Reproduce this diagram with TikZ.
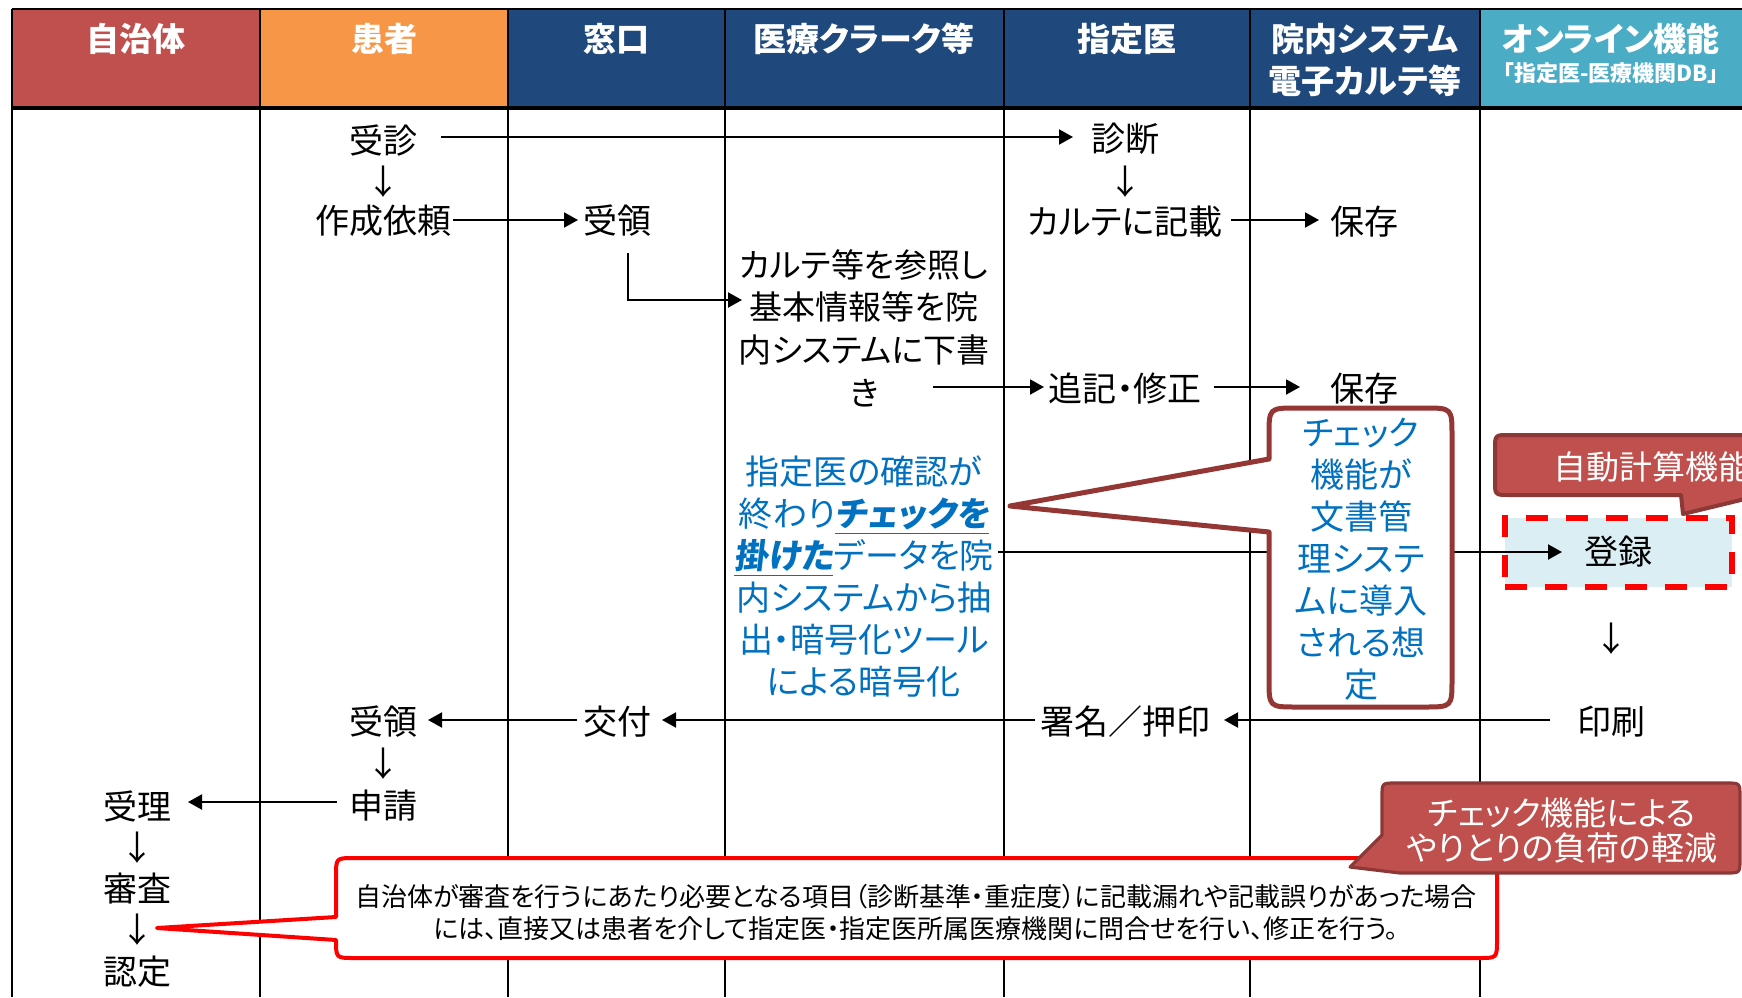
\documentclass[tikz,border=0pt]{standalone}
\usepackage{fontspec}
\setmainfont{Noto Sans CJK JP}[RawFeature=+palt]
\newfontfamily\emphfont{Noto Sans CJK JP}[RawFeature=+palt, FakeSlant=0.12]
\usetikzlibrary{arrows.meta,calc}
\definecolor{hred}{HTML}{C0504D}
\definecolor{horange}{HTML}{F79646}
\definecolor{hblue}{HTML}{1F497D}
\definecolor{hteal}{HTML}{4BACC6}
\definecolor{txtblue}{HTML}{0070C0}
\definecolor{brownred}{HTML}{943634}
\definecolor{darkred}{HTML}{8C3836}
\definecolor{boxblue}{HTML}{DAEEF3}
\begin{document}
\begin{tikzpicture}[x=0.5pt,y=-0.5pt,
  txt/.style={inner sep=0pt, font=\fontsize{17pt}{21pt}\selectfont, align=center},
  hd/.style={inner sep=0pt, text=white, font=\fontsize{16.5pt}{21pt}\selectfont\bfseries, align=center},
  arr/.style={line width=1pt, -{Triangle[length=7pt,width=7.5pt]}},
  gridline/.style={line width=1pt, black},
  redcall/.style={fill=hred, draw=darkred, line width=1.6pt, line join=round},
  wcall/.style={fill=white, line join=round},
  dashbox/.style={txt, draw=red, line width=3pt, dash pattern=on 11pt off 9pt, fill=boxblue, minimum width=113.5pt, minimum height=34.5pt}
  ]
\useasboundingbox (0,0) rectangle (1742,997);
\clip (0,0) rectangle (1742,997);
\fill[white] (0,0) rectangle (1742,997);
% header cells
\fill[hred] (12,9) rectangle (260,108);
\fill[horange] (260,9) rectangle (508,108);
\fill[hblue] (508,9) rectangle (1480,108);
\fill[hteal] (1480,9) rectangle (1760,108);
% grid
\foreach \x in {12,260,508,725,1004,1250,1480} \draw[gridline] (\x,9) -- (\x,997);
\draw[gridline] (12,9) -- (1760,9);
\draw[line width=2pt] (12,108) -- (1760,108);
% header texts
\node[hd] (hJ) at (136,39) {自治体};
\node[hd] (hP) at (384,39) {患者};
\node[hd] (hM) at (616,39) {窓口};
\node[hd] (hC) at (864,39) {医療クラーク等};
\node[hd] (hS) at (1127,39) {指定医};
\node[hd] (hI) at (1365,60) {院内システム\\電子カルテ等};
\node[hd] (hO) at (1611,39) {オンライン機能};
\node[hd, font=\fontsize{11pt}{13pt}\selectfont\bfseries] (hO2) at (1611,73) {「指定医-医療機関DB」};
% body texts
\node[txt] (jushin) at (383,141) {受診};
\node[txt] (d1) at (383,182) {↓};
\node[txt] (irai) at (383,221) {作成依頼};
\node[txt] (ryo1) at (617,221) {受領};
\node[txt] (shindan) at (1125,139) {診断};
\node[txt] (d2) at (1125,182) {↓};
\node[txt] (kisai) at (1125,222) {カルテに記載};
\node[txt] (hozon1) at (1364,222) {保存};
\node[txt, font=\fontsize{16.5pt}{21.3pt}\selectfont] (draft) at (864,328) {カルテ等を参照し\\基本情報等を院\\内システムに下書\\き};
\node[txt] (tsuiki) at (1125,389) {追記・修正};
\node[txt] (hozon2) at (1364,389) {保存};
\node[txt, text=txtblue] (extract) at (864,577) {指定医の確認が\\終わり\underline{\emphfont\bfseries チェックを}\\\underline{\emphfont\bfseries 掛けた}データを院\\内システムから抽\\出・暗号化ツール\\による暗号化};
\node[dashbox] (toroku) at (1618,552) {登録};
\node[txt] (d3) at (1611,639) {↓};
\node[txt] (insatsu) at (1611,722) {印刷};
\node[txt] (shomei) at (1125,722) {署名／押印};
\node[txt] (kofu) at (617,722) {交付};
\node[txt] (ryo2) at (383,722) {受領};
\node[txt] (d4) at (383,764) {↓};
\node[txt] (shinsei) at (383,806) {申請};
\node[txt] (juri) at (137,806) {受理};
\node[txt] (d5) at (137,848) {↓};
\node[txt] (shinsa) at (137,889) {審査};
\node[txt] (d6) at (137,930) {↓};
\node[txt] (nintei) at (137,972) {認定};
% arrows
\draw[arr] ($(jushin.center)+(58,-4)$) -- ($(shindan.center)+(-52,-2)$);
\draw[arr] ($(irai.center)+(70,-1)$) -- ($(ryo1.center)+(-39,-1)$);
\draw[arr] ($(ryo1.center)+(11,32)$) |- ($(draft.center)+(-122,-28)$);
\draw[arr] ($(kisai.center)+(106,-2)$) -- ($(hozon1.center)+(-45,-2)$);
\draw[arr] ($(draft.center)+(69,59)$) -- ($(tsuiki.center)+(-81,-2)$);
\draw[arr] ($(tsuiki.center)+(89,-2)$) -- ($(hozon2.center)+(-64,-2)$);
\draw[arr] ($(extract.center)+(134,-25)$) -- ($(toroku.center)+(-56,0)$);
\draw[arr] ($(insatsu.center)+(-61,-2)$) -- ($(shomei.center)+(99,-2)$);
\draw[arr] ($(shomei.center)+(-90,-2)$) -- ($(kofu.center)+(45,-2)$);
\draw[arr] ($(kofu.center)+(-40,-2)$) -- ($(ryo2.center)+(45,-2)$);
\draw[arr] ($(shinsei.center)+(-46,-4)$) -- ($(juri.center)+(51,-4)$);
% callout: check function (brown)
\filldraw[wcall, draw=brownred, line width=2.5pt]
 (1010,506) -- (1269,459) -- (1269,436) .. controls (1269,408) .. (1297,408) -- (1424,408) .. controls (1452,408) .. (1452,436) -- (1452,679) .. controls (1452,707) .. (1424,707) -- (1297,707) .. controls (1269,707) .. (1269,679) -- (1269,532) -- cycle;
\node[txt, text=txtblue] (ctext) at (1361,559) {チェック\\機能が\\文書管\\理システ\\ムに導入\\される想\\定};
% bottom callout (red outline)
\filldraw[wcall, draw=red, line width=2pt]
 (157,928) -- (336,917) -- (336,876) .. controls (336,858) .. (354,858) -- (1479,858) .. controls (1497,858) .. (1497,876) -- (1497,940) .. controls (1497,958) .. (1479,958) -- (354,958) .. controls (336,958) .. (336,940) -- cycle;
\node[txt, font=\fontsize{13pt}{16pt}\selectfont] (note) at (916,912) {自治体が審査を行うにあたり必要となる項目（診断基準・重症度）に記載漏れや記載誤りがあった場合\\には、直接又は患者を介して指定医・指定医所属医療機関に問合せを行い、修正を行う。};
% red callout: load reduction
\filldraw[redcall]
 (1350,867) -- (1382,835) -- (1382,797) .. controls (1382,783) .. (1396,783) -- (1726,783) .. controls (1740,783) .. (1740,797) -- (1740,859) .. controls (1740,873) .. (1726,873) -- (1400,873) -- cycle;
\node[txt, text=white, font=\fontsize{16.5pt}{17.5pt}\selectfont] (load) at (1562,830) {チェック機能による\\やりとりの負荷の軽減};
% red callout: auto calculation
\filldraw[redcall, line width=2pt]
 (1683,514) -- (1681,495) -- (1509,495) .. controls (1495,495) .. (1495,481) -- (1495,449) .. controls (1495,435) .. (1509,435) -- (1800,435) -- (1800,499) -- (1745,499) -- cycle;
\node[txt, anchor=west, text=white, font=\fontsize{16.5pt}{21pt}\selectfont] (auto) at (1553,467) {自動計算機能};
\end{tikzpicture}
\end{document}
